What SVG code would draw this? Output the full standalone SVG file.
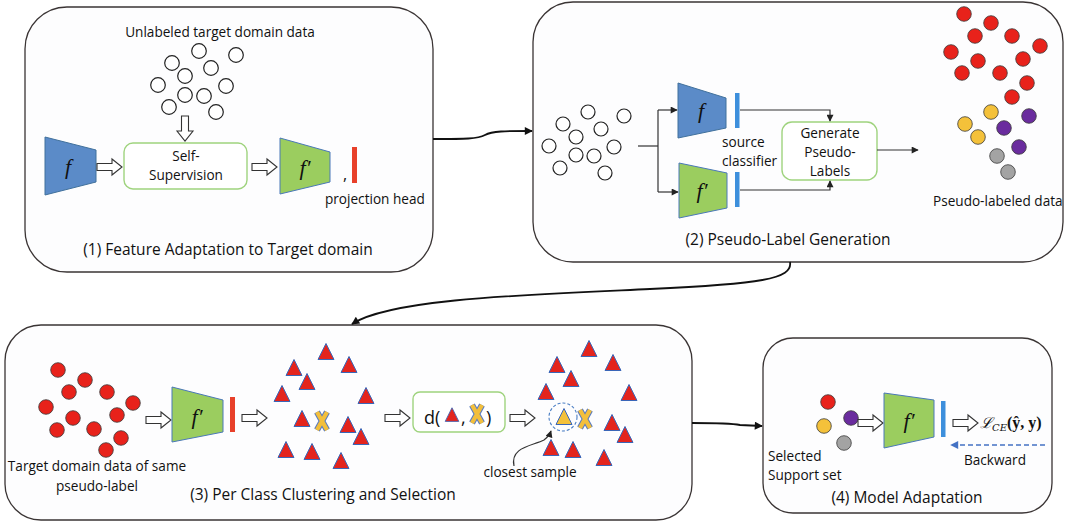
<svg xmlns="http://www.w3.org/2000/svg" width="1065" height="523" viewBox="0 0 1065 523">
  <defs>
    <style>
      .panel{fill:#fdfdfe;stroke:#3a3434;stroke-width:1.3}
      .t{font-family:"Open Sans","Liberation Sans",sans-serif;fill:#111}
      .s{font-size:13.6px}
      .ttl{font-size:15.5px}
      .mid{text-anchor:middle}
      .hc{fill:#fff;stroke:#222;stroke-width:1.2}
      .fb{fill:#5b8bc8;stroke:#41719c;stroke-width:1}
      .fg{fill:#9bcd5f;stroke:#4a78b8;stroke-width:1}
      .fl{font-family:"Liberation Serif","DejaVu Serif",serif;font-style:italic;font-size:22px;fill:#111;text-anchor:middle}
      .gbox{fill:#fff;stroke:#9fd37e;stroke-width:1.4}
      .barr{fill:#e8402a}
      .barb{fill:#3d8fdc}
      .red{fill:#e8221b;stroke:#3a3a3a;stroke-width:0.8}
      .yel{fill:#f4c13a;stroke:#3a3a3a;stroke-width:0.8}
      .pur{fill:#6a2c9e;stroke:#3a3a3a;stroke-width:0.8}
      .gry{fill:#a3a3a3;stroke:#3a3a3a;stroke-width:0.8}
      .conn{fill:none;stroke:#111;stroke-width:1.8}
      .thin{fill:none;stroke:#333;stroke-width:1.2}
    </style>
    <marker id="arr" viewBox="0 0 10 10" refX="9" refY="5" markerUnits="userSpaceOnUse" markerWidth="10" markerHeight="8" orient="auto">
      <path d="M0,0L10,5L0,10z" fill="#111"/>
    </marker>
    <marker id="sarr" viewBox="0 0 10 10" refX="9" refY="5" markerUnits="userSpaceOnUse" markerWidth="8" markerHeight="7" orient="auto">
      <path d="M0,0L10,5L0,10z" fill="#222"/>
    </marker>
    <marker id="barr" viewBox="0 0 10 10" refX="9" refY="5" markerUnits="userSpaceOnUse" markerWidth="9" markerHeight="8" orient="auto">
      <path d="M0,0L10,5L0,10z" fill="#4472c4"/>
    </marker>
    <!-- hollow block arrow pointing right, origin at tail centre -->
    <path id="ha" d="M0,-3.5H15V-8L25,0L15,8V3.5H0Z" fill="#fff" stroke="#333" stroke-width="1.1"/>
    <polygon id="tri" points="0,-8.5 8,7.5 -8,7.5" fill="#e3241d" stroke="#3a66b8" stroke-width="1"/>
    <polygon id="ytri" points="0,-8.5 8,7.5 -8,7.5" fill="#f4c13a" stroke="#3a66b8" stroke-width="1"/>
    <g id="xm">
      <path d="M-5,-9L5,9M5,-9L-5,9" stroke="#5b7cc0" stroke-width="6.4" fill="none"/>
      <path d="M-5,-9L5,9M5,-9L-5,9" stroke="#f3bf3b" stroke-width="4.2" fill="none"/>
    </g>
  </defs>

  <rect width="1065" height="523" fill="#fff"/>

  <!-- (1) feature adaptation -->
  <g id="panel1">
    <rect class="panel" x="25" y="7" width="408" height="265" rx="42"/>
    <text class="t s mid" x="220" y="37">Unlabeled target domain data</text>
    <g>
      <circle class="hc" cx="199" cy="51" r="7.3"/>
      <circle class="hc" cx="236" cy="55" r="7.3"/>
      <circle class="hc" cx="172" cy="63" r="7.3"/>
      <circle class="hc" cx="211" cy="68" r="7.3"/>
      <circle class="hc" cx="185" cy="76" r="7.3"/>
      <circle class="hc" cx="158" cy="85" r="7.3"/>
      <circle class="hc" cx="226" cy="86" r="7.3"/>
      <circle class="hc" cx="185" cy="95" r="7.3"/>
      <circle class="hc" cx="204" cy="96" r="7.3"/>
      <circle class="hc" cx="169" cy="107" r="7.3"/>
      <circle class="hc" cx="216" cy="112" r="7.3"/>
    </g>
    <use href="#ha" transform="translate(185,116) rotate(90)"/>
    <polygon class="fb" points="45,137 96,150 96,182 45,195"/>
    <text class="fl" x="68" y="174">f</text>
    <use href="#ha" x="97" y="167"/>
    <rect class="gbox" x="124" y="143" width="123" height="46" rx="9"/>
    <text class="t s mid" x="186" y="161">Self-</text>
    <text class="t s mid" x="186" y="180">Supervision</text>
    <use href="#ha" x="252" y="167"/>
    <polygon class="fg" points="280,138 330,152 330,182 280,194"/>
    <text class="fl" x="305" y="175">f′</text>
    <text class="t" x="343" y="180" font-size="16">,</text>
    <rect class="barr" x="352" y="147" width="5" height="36"/>
    <text class="t s" x="325" y="204">projection head</text>
    <text class="t ttl mid" x="228" y="255">(1) Feature Adaptation to Target domain</text>
  </g>

  <!-- (2) pseudo-label generation -->
  <g id="panel2">
    <rect class="panel" x="533" y="2" width="530" height="260" rx="40"/>
    <g>
      <circle class="hc" cx="588" cy="112" r="7"/>
      <circle class="hc" cx="624" cy="116" r="7"/>
      <circle class="hc" cx="563" cy="124" r="7"/>
      <circle class="hc" cx="601" cy="129" r="7"/>
      <circle class="hc" cx="576" cy="137" r="7"/>
      <circle class="hc" cx="549" cy="146" r="7"/>
      <circle class="hc" cx="614" cy="147" r="7"/>
      <circle class="hc" cx="576" cy="155" r="7"/>
      <circle class="hc" cx="594" cy="156" r="7"/>
      <circle class="hc" cx="560" cy="168" r="7"/>
      <circle class="hc" cx="605" cy="173" r="7"/>
    </g>
    <polygon class="fb" points="678,83 726,98 726,128 678,138"/>
    <text class="fl" x="701" y="118">f</text>
    <rect class="barb" x="735" y="93" width="4.5" height="35"/>
    <polygon class="fg" points="679,163 727,173 727,208 679,218"/>
    <text class="fl" x="702" y="198">f′</text>
    <rect class="barb" x="735" y="172" width="4.5" height="35"/>
    <text class="t s" x="722" y="147">source</text>
    <text class="t s" x="722" y="166">classifier</text>
    <rect class="gbox" x="782" y="122" width="95" height="58" rx="10"/>
    <text class="t s mid" x="830" y="138">Generate</text>
    <text class="t s mid" x="830" y="157">Pseudo-</text>
    <text class="t s mid" x="830" y="176">Labels</text>
    <g>
      <circle class="red" cx="964" cy="14" r="7.3"/>
      <circle class="red" cx="991" cy="23" r="7.3"/>
      <circle class="red" cx="975" cy="36" r="7.3"/>
      <circle class="red" cx="1012" cy="36" r="7.3"/>
      <circle class="red" cx="1040" cy="46" r="7.3"/>
      <circle class="red" cx="951" cy="52" r="7.3"/>
      <circle class="red" cx="978" cy="61" r="7.3"/>
      <circle class="red" cx="1023" cy="59" r="7.3"/>
      <circle class="red" cx="962" cy="73" r="7.3"/>
      <circle class="red" cx="1000" cy="73" r="7.3"/>
      <circle class="red" cx="1027" cy="83" r="7.3"/>
      <circle class="red" cx="1012" cy="97" r="7.3"/>
      <circle class="yel" cx="991" cy="112" r="7.3"/>
      <circle class="yel" cx="965" cy="124" r="7.3"/>
      <circle class="yel" cx="978" cy="137" r="7.3"/>
      <circle class="pur" cx="1029" cy="116" r="7.3"/>
      <circle class="pur" cx="1004" cy="128" r="7.3"/>
      <circle class="pur" cx="1019" cy="147" r="7.3"/>
      <circle class="gry" cx="997" cy="156" r="7.3"/>
      <circle class="gry" cx="1008" cy="172" r="7.3"/>
    </g>
    <text class="t s" x="933" y="206">Pseudo-labeled data</text>
    <text class="t ttl mid" x="788" y="245">(2) Pseudo-Label Generation</text>
  </g>

  <!-- (3) per class clustering and selection -->
  <g id="panel3">
    <rect class="panel" x="5" y="325" width="687" height="195" rx="36"/>
    <g>
      <circle class="red" cx="58" cy="370" r="7.3"/>
      <circle class="red" cx="85" cy="380" r="7.3"/>
      <circle class="red" cx="69" cy="392" r="7.3"/>
      <circle class="red" cx="107" cy="392" r="7.3"/>
      <circle class="red" cx="46" cy="407" r="7.3"/>
      <circle class="red" cx="133" cy="403" r="7.3"/>
      <circle class="red" cx="73" cy="418" r="7.3"/>
      <circle class="red" cx="117" cy="415" r="7.3"/>
      <circle class="red" cx="57" cy="430" r="7.3"/>
      <circle class="red" cx="94" cy="429" r="7.3"/>
      <circle class="red" cx="121" cy="438" r="7.3"/>
      <circle class="red" cx="106" cy="450" r="7.3"/>
    </g>
    <text class="t s mid" x="97" y="471">Target domain data of same</text>
    <text class="t s mid" x="97" y="491">pseudo-label</text>
    <use href="#ha" x="146" y="420"/>
    <polygon class="fg" points="172,387 223,400 223,432 172,442"/>
    <text class="fl" x="197" y="424">f′</text>
    <rect class="barr" x="230" y="397" width="5" height="35"/>
    <use href="#ha" x="242" y="418"/>
    <g>
      <use href="#tri" x="326" y="352"/>
      <use href="#tri" x="294" y="368"/>
      <use href="#tri" x="349" y="365"/>
      <use href="#tri" x="307" y="382"/>
      <use href="#tri" x="282" y="394"/>
      <use href="#tri" x="366" y="396"/>
      <use href="#tri" x="302" y="419"/>
      <use href="#tri" x="348" y="425"/>
      <use href="#tri" x="361" y="437"/>
      <use href="#tri" x="286" y="450"/>
      <use href="#tri" x="312" y="452"/>
      <use href="#tri" x="341" y="461"/>
      <use href="#xm" x="322" y="421"/>
    </g>
    <use href="#ha" x="385" y="418"/>
    <rect class="gbox" x="413" y="392" width="92" height="40" rx="7"/>
    <text class="t" x="424" y="424" font-size="18">d(</text>
    <use href="#tri" transform="translate(452,415) scale(0.85)"/>
    <text class="t" x="461" y="424" font-size="18">,</text>
    <use href="#xm" x="477" y="414"/>
    <text class="t" x="486" y="424" font-size="18">)</text>
    <use href="#ha" x="510" y="418"/>
    <g>
      <use href="#tri" x="589" y="349"/>
      <use href="#tri" x="557" y="365"/>
      <use href="#tri" x="613" y="363"/>
      <use href="#tri" x="571" y="379"/>
      <use href="#tri" x="546" y="392"/>
      <use href="#tri" x="629" y="393"/>
      <use href="#tri" x="612" y="423"/>
      <use href="#tri" x="625" y="435"/>
      <use href="#tri" x="551" y="448"/>
      <use href="#tri" x="573" y="450"/>
      <use href="#tri" x="604" y="458"/>
      <circle cx="563" cy="417" r="14" fill="none" stroke="#4a7ec4" stroke-width="1.1" stroke-dasharray="3,2"/>
      <use href="#ytri" x="564" y="417"/>
      <use href="#xm" x="585" y="419"/>
    </g>
    <path class="thin" d="M514,466 C510,447 532,446 544,440 C548,437 550,434 551,431" marker-end="url(#sarr)"/>
    <text class="t s mid" x="530" y="477">closest sample</text>
    <text class="t ttl mid" x="323" y="500">(3) Per Class Clustering and Selection</text>
  </g>

  <!-- (4) model adaptation -->
  <g id="panel4">
    <rect class="panel" x="763" y="338" width="289" height="175" rx="30"/>
    <circle class="red" cx="828" cy="402" r="7.3"/>
    <circle class="yel" cx="824" cy="426" r="7.3"/>
    <circle class="pur" cx="851" cy="418" r="7.3"/>
    <circle class="gry" cx="844" cy="443" r="7.3"/>
    <use href="#ha" x="858" y="423"/>
    <polygon class="fg" points="884,393 934,400 934,437 884,448"/>
    <text class="fl" x="909" y="428">f′</text>
    <rect class="barb" x="941" y="401" width="4.5" height="36"/>
    <use href="#ha" x="953" y="423"/>
    <text x="980" y="428" font-family="'DejaVu Serif','Liberation Serif',serif" font-size="15" fill="#111"><tspan font-style="italic">ℒ</tspan><tspan font-style="italic" font-size="10" dy="3">CE</tspan><tspan dy="-3" font-family="'Liberation Serif',serif" font-weight="bold" font-size="16">(ŷ, y)</tspan></text>
    <path d="M1045,445 H951" fill="none" stroke="#4472c4" stroke-width="1.6" stroke-dasharray="5,3" marker-end="url(#barr)"/>
    <text class="t s mid" x="995" y="465">Backward</text>
    <text class="t s" x="768" y="461">Selected</text>
    <text class="t s" x="768" y="480">Support set</text>
    <text class="t ttl mid" x="907" y="503">(4) Model Adaptation</text>
  </g>

  <!-- connectors -->
  <g id="connectors">
    <path class="conn" d="M433,139 C465,139 478,139 485,135 C492,131 505,131 532,131" marker-end="url(#arr)"/>
    <path class="conn" d="M790,262 C793,279 760,284 650,289 C520,295 390,299 352,324" marker-end="url(#arr)"/>
    <path class="conn" d="M692,423 C720,423 730,423 740,425 L762,426" marker-end="url(#arr)"/>
    <path class="thin" d="M638,146 H658"/>
    <path class="thin" d="M658,110 V192"/>
    <path class="thin" d="M658,110 H677" marker-end="url(#sarr)"/>
    <path class="thin" d="M658,192 H678" marker-end="url(#sarr)"/>
    <path class="thin" d="M740,110 H830 V121" marker-end="url(#sarr)"/>
    <path class="thin" d="M740,190 H830 V181" marker-end="url(#sarr)"/>
    <path class="thin" d="M877,150 H918" marker-end="url(#sarr)"/>
  </g>
</svg>
